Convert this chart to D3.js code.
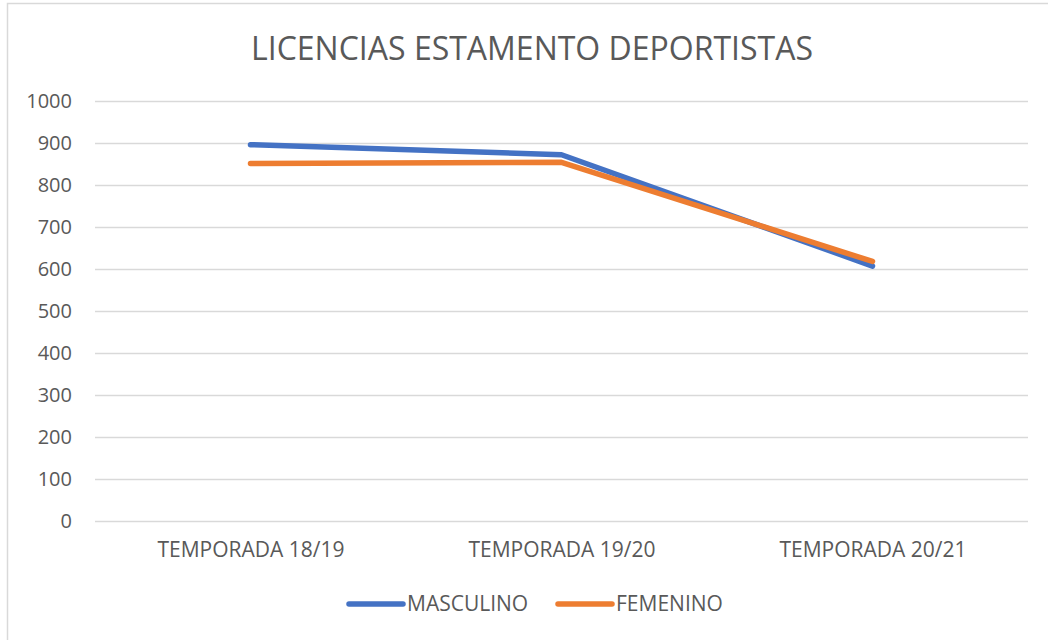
<!DOCTYPE html>
<html>
<head>
<meta charset="utf-8">
<script src="https://cdn.jsdelivr.net/npm/d3@7"></script>
<style>
  body { margin: 0; background: #fff; }
  svg { display: block; font-family: "Open Sans", "Liberation Sans", sans-serif; }
</style>
</head>
<body>
<main></main>
<script>
const categories = ['TEMPORADA 18/19', 'TEMPORADA 19/20', 'TEMPORADA 20/21'];
const masculino = [896, 872, 607];
const femenino = [851, 854, 618];
const yTicks = [0, 100, 200, 300, 400, 500, 600, 700, 800, 900, 1000];
const seriesNames = ['MASCULINO', 'FEMENINO'];
const seriesColors = ['#4472c4', '#ed7d31'];

const w = 1048;
const h = 640;
const plotLeft = 95;
const plotRight = 1028;
const plotTop = 101;
const plotBottom = 521;

const svg = d3.select('main').append('svg')
  .attr('width', w)
  .attr('height', h);

// chart frame
svg.append('rect')
  .attr('x', 7.5)
  .attr('y', 3.5)
  .attr('width', 1060)
  .attr('height', 700)
  .attr('fill', 'none')
  .attr('stroke', '#d9d9d9')
  .attr('stroke-width', 1.5);

svg.append('text')
  .attr('x', 532)
  .attr('y', 60)
  .attr('text-anchor', 'middle')
  .attr('fill', '#595959')
  .attr('font-size', '32px')
  .text('LICENCIAS ESTAMENTO DEPORTISTAS');

const xScale = d3.scalePoint()
  .domain(categories)
  .range([plotLeft, plotRight])
  .padding(0.5);

const yScale = d3.scaleLinear()
  .domain([0, 1000])
  .range([plotBottom, plotTop]);

const yAxis = svg.append('g')
  .attr('transform', `translate(${plotLeft}, 0)`)
  .call(d3.axisLeft(yScale).tickValues(yTicks).tickFormat(d3.format('d'))
    .tickSize(-(plotRight - plotLeft)).tickPadding(23));

yAxis.select('.domain').remove();
yAxis.selectAll('line')
  .attr('stroke', '#d9d9d9')
  .attr('stroke-width', 1.3);
yAxis.selectAll('text')
  .attr('fill', '#595959')
  .attr('font-size', '20px')
  .attr('font-family', '"Open Sans", sans-serif');

const xAxis = svg.append('g')
  .attr('transform', `translate(0, ${plotBottom})`)
  .call(d3.axisBottom(xScale).tickSize(0).tickPadding(21));

xAxis.select('.domain').remove();
xAxis.selectAll('text')
  .attr('fill', '#595959')
  .attr('font-size', '21px')
  .attr('font-family', '"Open Sans", sans-serif');

const line = d3.line()
  .x((d, i) => xScale(categories[i]))
  .y(d => yScale(d));

[masculino, femenino].forEach((values, k) => {
  svg.append('path')
    .datum(values)
    .attr('d', line)
    .attr('fill', 'none')
    .attr('stroke', seriesColors[k])
    .attr('stroke-width', 5.5)
    .attr('stroke-linecap', 'round')
    .attr('stroke-linejoin', 'round');
});

// legend
const legendX = [347, 556];
seriesNames.forEach((name, k) => {
  const g = svg.append('g')
    .attr('transform', `translate(${legendX[k]}, 604)`);
  g.append('line')
    .attr('x1', 2)
    .attr('x2', 56)
    .attr('stroke', seriesColors[k])
    .attr('stroke-width', 5.5)
    .attr('stroke-linecap', 'round');
  g.append('text')
    .attr('x', 60)
    .attr('y', 7)
    .attr('fill', '#595959')
    .attr('font-size', '21px')
    .text(name);
});
</script>
</body>
</html>
